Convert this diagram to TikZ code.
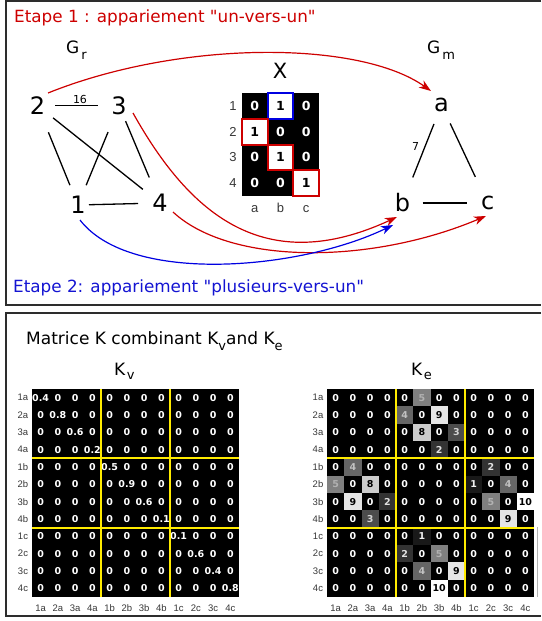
\documentclass[tikz,border=0pt]{standalone}
\usepackage{fontspec}
\setmainfont{DejaVu Sans}[Ligatures=TeXOff]
\newfontfamily\labfont{Liberation Sans}
\usetikzlibrary{arrows.meta,calc}
\newcommand\myfs[1]{\fontsize{#1}{#1}\selectfont}
\definecolor{myred}{RGB}{205,0,0}
\definecolor{myblue}{RGB}{20,20,210}
\definecolor{arrblue}{RGB}{0,0,225}
\definecolor{ylw}{RGB}{255,235,0}
\definecolor{framec}{RGB}{45,45,45}
\definecolor{lblc}{RGB}{55,55,55}
\begin{document}
\begin{tikzpicture}[x=1pt,y=-1pt,
  gnode/.style={inner sep=0pt, font=\myfs{24}},
  gedge/.style={line width=1.3pt},
  arr/.style={line width=1.2pt,-{Stealth[length=12pt,width=8.5pt,inset=3.5pt]}},
  title/.style={anchor=base west, inner sep=0pt, font=\myfs{16.8}},
  xcell/.style={inner sep=0pt, font=\bfseries\myfs{12.5}},
  xlab/.style={inner sep=0pt, text=lblc, font=\labfont\myfs{13}},
  mcell/.style={inner sep=0pt, font=\bfseries\myfs{9.5}},
  mlab/.style={inner sep=0pt, text=lblc, font=\labfont\myfs{9.5}},
  ylwline/.style={ylw, line width=2pt},
  panel/.style={framec, line width=1.5pt}]
\useasboundingbox (0,0) rectangle (541,621);
% panels
\draw[panel] (541,1) -- (6,1) -- (6,305) -- (541,305);
\draw[panel] (541,313) -- (6,313) -- (6,616) -- (541,616);
% titles
\node[title, text=myred] (t1) at (14,22.7) {Etape 1 : appariement "un-vers-un"};
\node[title, text=myblue] (t2) at (13,292) {Etape 2: appariement "plusieurs-vers-un"};
\node[anchor=base west, inner sep=0pt] (gr) at (66,53) {\myfs{17}G\kern2pt\raisebox{-6pt}{\myfs{13}r}};
\node[anchor=base west, inner sep=0pt] (gm) at (427,53) {\myfs{17}G\kern2pt\raisebox{-6pt}{\myfs{13}m}};
\node[anchor=base, inner sep=0pt] (xt) at (280,78) {\myfs{21}X};
% graph Gr
\node[gnode] (n2) at (37.5,105.5) {2};
\node[gnode] (n3) at (119,105.5) {3};
\node[gnode] (n1) at (78,205) {1};
\node[gnode] (n4) at (160,203) {4};
\draw[gedge, shorten <=17.5pt, shorten >=21pt] (n2.center) -- (n3.center);
\draw[gedge, shorten <=28.9pt, shorten >=21.4pt] (n2.center) -- (n1.center);
\draw[gedge, shorten <=19.9pt, shorten >=21.9pt] (n2.center) -- (n4.center);
\draw[gedge, shorten <=28.7pt, shorten >=21.4pt] (n3.center) -- (n1.center);
\draw[gedge, shorten <=17pt, shorten >=27.7pt] (n3.center) -- (n4.center);
\draw[gedge, shorten <=11pt, shorten >=22pt] (n1.center) -- (n4.center);
\node[inner sep=0pt, font=\myfs{11}] (l16) at (80,99) {16};
% graph Gm
\node[gnode] (a) at (441.5,105) {a};
\node[gnode] (b) at (402.6,203) {b};
\node[gnode] (c) at (487.6,203) {c};
\draw[gedge, shorten <=20.4pt, shorten >=27.5pt] (a.center) -- (b.center);
\draw[gedge, shorten <=20.4pt, shorten >=28.8pt] (a.center) -- (c.center);
\draw[gedge, shorten <=20pt, shorten >=21pt] (b.center) -- (c.center);
\node[inner sep=0pt, font=\myfs{11}] (l7) at (415.5,146) {7};
% matrix X
\fill[black] (242,93) rectangle (319,196);
\draw[arrblue, line width=2pt, fill=white] (267.7,93) rectangle (293.3,118.75);
\draw[myred, line width=2pt, fill=white] (242,118.75) rectangle (267.7,144.5);
\draw[myred, line width=2pt, fill=white] (267.7,144.5) rectangle (293.3,170.25);
\draw[myred, line width=2pt, fill=white] (293.3,170.25) rectangle (319,196);
\foreach \rowv [count=\r] in {{0,1,0},{1,0,0},{0,1,0},{0,0,1}} {
  \foreach \v [count=\c] in \rowv {
    \ifnum\v=1 \def\tc{black}\else\def\tc{white}\fi
    \node[xcell, text=\tc] (x\r\c) at ({242+25.67*(\c-0.5)},{93+25.75*(\r-0.5)}) {\v};
  }
}
\foreach \r in {1,...,4} \node[xlab] (xr\r) at (233,{93+25.75*(\r-0.5)}) {\r};
\foreach \l [count=\c] in {a,b,c} \node[xlab, anchor=base] (xc\c) at ({242+25.67*(\c-0.5)},212) {\l};
% arrows
\draw[arr, myred] ($(n2)+(10.5,-12.5)$) .. controls (180,40) and (359,40) .. ($(a)+(-10.5,-14)$);
\draw[arr, myred] ($(n3)+(14,7.5)$) .. controls (190,215) and (265,278) .. ($(b)+(-5.6,14)$);
\draw[arr, myred] ($(n4)+(13,9)$) .. controls (230,265) and (370,265) .. ($(c)+(-1.6,13)$);
\draw[arr, arrblue] ($(n1)+(2,15)$) .. controls (130,285) and (300,270) .. ($(b)+(-9.6,22)$);
% bottom panel
\node[anchor=base west, inner sep=0pt] (mt) at (26,344) {\myfs{17}Matrice K combinant K\raisebox{-6pt}{\myfs{13}v}and K\raisebox{-6pt}{\myfs{13}e}};
\node[anchor=base west, inner sep=0pt] (kvh) at (114,375) {\myfs{17}K\kern1.5pt\raisebox{-4pt}{\myfs{13}v}};
\node[anchor=base west, inner sep=0pt] (keh) at (411,375) {\myfs{17}K\kern1.5pt\raisebox{-4pt}{\myfs{13}e}};
% Kv
\fill[black] (32,389) rectangle (239,597);
\foreach \dv [count=\r] in {0.4,0.8,0.6,0.2,0.5,0.9,0.6,0.1,0.1,0.6,0.4,0.8} {
  \foreach \c in {1,...,12} {
    \ifnum\c=\r \edef\val{\dv}\else\def\val{0}\fi
    \node[mcell, text=white] (kv-\r-\c) at ({32+17.25*(\c-0.5)},{389+17.333*(\r-0.5)}) {\val};
  }
}
\draw[ylwline] (101,389) -- (101,597);
\draw[ylwline] (170,389) -- (170,597);
\draw[ylwline] (32,458.3) -- (239,458.3);
\draw[ylwline] (32,527.7) -- (239,527.7);
% Ke
\fill[black] (327,389) rectangle (534,597);
\foreach \rowv [count=\r] in {
  {0,0,0,0,0,5,0,0,0,0,0,0},
  {0,0,0,0,4,0,9,0,0,0,0,0},
  {0,0,0,0,0,8,0,3,0,0,0,0},
  {0,0,0,0,0,0,2,0,0,0,0,0},
  {0,4,0,0,0,0,0,0,0,2,0,0},
  {5,0,8,0,0,0,0,0,1,0,4,0},
  {0,9,0,2,0,0,0,0,0,5,0,10},
  {0,0,3,0,0,0,0,0,0,0,9,0},
  {0,0,0,0,0,1,0,0,0,0,0,0},
  {0,0,0,0,2,0,5,0,0,0,0,0},
  {0,0,0,0,0,4,0,9,0,0,0,0},
  {0,0,0,0,0,0,10,0,0,0,0,0}} {
  \foreach \v [count=\c] in \rowv {
    \pgfmathtruncatemacro\pct{10*\v}
    \pgfmathtruncatemacro\tcv{100-6*\v}
    \ifnum\v>0
      \fill[white!\pct!black] ({327+17.25*(\c-1)},{389+17.333*(\r-1)}) rectangle +(17.25,17.333);
    \fi
    \ifnum\v>7 \def\tc{black}\else\edef\tc{white!\tcv!black}\fi
    \node[mcell, text=\tc] (ke-\r-\c) at ({327+17.25*(\c-0.5)},{389+17.333*(\r-0.5)}) {\v};
  }
}
\draw[ylwline] (396,389) -- (396,597);
\draw[ylwline] (465,389) -- (465,597);
\draw[ylwline] (327,458.3) -- (534,458.3);
\draw[ylwline] (327,527.7) -- (534,527.7);
\draw[gray!60, line width=1pt] (537.5,527) -- (537.5,597);
% labels
\foreach \rl [count=\i] in {1a,2a,3a,4a,1b,2b,3b,4b,1c,2c,3c,4c} {
  \node[mlab] (kvr\i) at (23,{389+17.333*(\i-0.5)}) {\rl};
  \node[mlab] (ker\i) at (318,{389+17.333*(\i-0.5)}) {\rl};
  \node[mlab] (kvc\i) at ({32+17.25*(\i-0.5)},608) {\rl};
  \node[mlab] (kec\i) at ({327+17.25*(\i-0.5)},608) {\rl};
}
\end{tikzpicture}
\end{document}
